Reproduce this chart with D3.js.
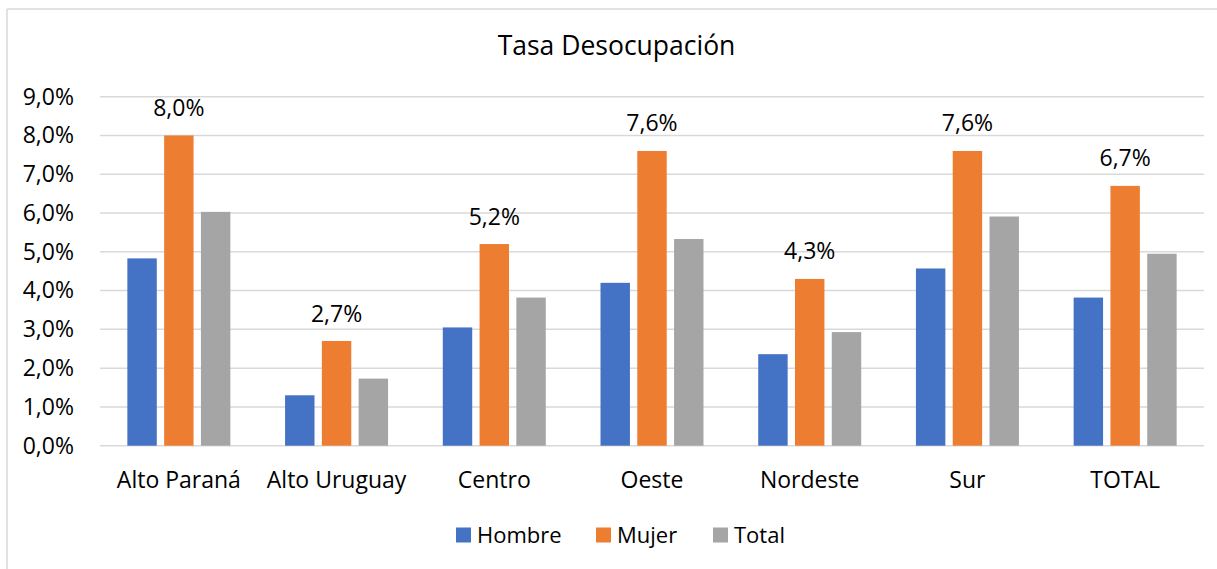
<!DOCTYPE html>
<html>
<head>
<meta charset="utf-8">
<script src="https://cdn.jsdelivr.net/npm/d3@7"></script>
<style>
  html, body { margin: 0; padding: 0; background: #fff; }
  svg { display: block; font-family: "Open Sans", Lato, sans-serif; }
</style>
</head>
<body>
<svg id="chart" width="1217" height="569"></svg>
<script>
// Regions and unemployment rates (%) by sex
const categories = ["Alto Paraná", "Alto Uruguay", "Centro", "Oeste", "Nordeste", "Sur", "TOTAL"];
const hombre = [4.83, 1.30, 3.05, 4.20, 2.36, 4.57, 3.82];
const mujer  = [8.0, 2.7, 5.2, 7.6, 4.3, 7.6, 6.7];
const total  = [6.03, 1.73, 3.82, 5.33, 2.93, 5.91, 4.95];
const seriesNames = ["Hombre", "Mujer", "Total"];
const yTicks = [0, 1, 2, 3, 4, 5, 6, 7, 8, 9];

const colors = ["#4472C4", "#ED7D31", "#A5A5A5"];
const seriesValues = [hombre, mujer, total];
const fmt = v => v.toFixed(1).replace(".", ",") + "%";
const FONT = "'Open Sans', Lato, sans-serif";
const LABEL_SIZE = 23;

const svg = d3.select("#chart");

// chart area frame (top and left edges)
svg.append("line").attr("x1", 7).attr("x2", 1217).attr("y1", 9).attr("y2", 9)
  .attr("stroke", "#d9d9d9").attr("stroke-width", 1.5);
svg.append("line").attr("x1", 7).attr("x2", 7).attr("y1", 9).attr("y2", 569)
  .attr("stroke", "#d9d9d9").attr("stroke-width", 1.5);

const plot = { left: 100, right: 1204, top: 96.7, bottom: 445.7 };

const x = d3.scaleBand().domain(categories).range([plot.left, plot.right]).paddingInner(0).paddingOuter(0);
const y = d3.scaleLinear().domain([0, 9]).range([plot.bottom, plot.top]);
const xs = d3.scaleBand().domain(seriesNames).range([-51.5, 51.5]).paddingInner(0.2).paddingOuter(0);

// title
svg.append("text").attr("x", 616.5).attr("y", 55).attr("text-anchor", "middle")
  .attr("font-size", 26.5).attr("fill", "#000").text("Tasa Desocupación");

// gridlines
svg.append("g").selectAll("line").data(yTicks).join("line")
  .attr("x1", plot.left).attr("x2", plot.right)
  .attr("y1", d => y(d)).attr("y2", d => y(d))
  .attr("stroke", "#d9d9d9").attr("stroke-width", 1.5);

// y axis labels
const yAxis = d3.axisLeft(y).tickValues(yTicks).tickFormat(fmt).tickSize(0).tickPadding(26);
const ya = svg.append("g").attr("transform", `translate(${plot.left},0)`).call(yAxis);
ya.select(".domain").remove();
ya.selectAll("text").attr("font-size", LABEL_SIZE).attr("fill", "#000")
  .attr("font-family", FONT);

// bars
const groups = svg.append("g").selectAll("g").data(categories).join("g")
  .attr("transform", d => `translate(${x(d) + x.bandwidth() / 2},0)`);

groups.selectAll("rect").data((d, i) => seriesNames.map((s, k) => ({ s, k, v: seriesValues[k][i] })))
  .join("rect")
  .attr("x", d => xs(d.s))
  .attr("width", xs.bandwidth())
  .attr("y", d => y(d.v))
  .attr("height", d => y(0) - y(d.v))
  .attr("fill", d => colors[d.k]);

// value labels on Mujer bars
groups.append("text")
  .datum((d, i) => mujer[i])
  .attr("x", xs("Mujer") + xs.bandwidth() / 2)
  .attr("y", d => y(d) - 19.5)
  .attr("text-anchor", "middle")
  .attr("font-size", LABEL_SIZE).attr("fill", "#000")
  .text(d => fmt(d));

// x axis labels
const xAxis = d3.axisBottom(x).tickSize(0).tickPadding(0);
const xa = svg.append("g").attr("transform", `translate(0,${plot.bottom})`).call(xAxis);
xa.select(".domain").remove();
xa.selectAll("text").attr("font-size", LABEL_SIZE).attr("fill", "#000")
  .attr("font-family", FONT).attr("dy", null).attr("y", 42.5);

// legend
const legendX = [456, 596, 713];
const lg = svg.append("g").selectAll("g").data(seriesNames).join("g")
  .attr("transform", (d, i) => `translate(${legendX[i]},535)`);
lg.append("rect").attr("x", 0).attr("y", -7.5).attr("width", 15).attr("height", 15)
  .attr("fill", (d, i) => colors[i]);
lg.append("text").attr("x", 21).attr("y", 7.7).attr("font-size", 22).attr("fill", "#000")
  .text(d => d);
</script>
</body>
</html>
